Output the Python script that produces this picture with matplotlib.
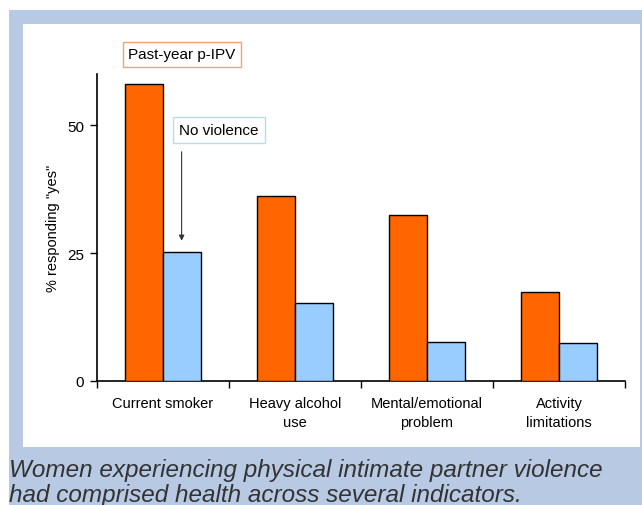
import matplotlib
matplotlib.use("Agg")
import matplotlib.pyplot as plt
from matplotlib.patches import Rectangle
import numpy as np

categories = ["Current smoker", "Heavy alcohol\nuse", "Mental/emotional\nproblem", "Activity\nlimitations"]
ipv = [58.1, 36.1, 32.4, 17.3]
no_violence = [25.3, 15.2, 7.6, 7.5]
yticks = [0, 25, 50]

plt.rcParams['font.family'] = ['Liberation Sans', 'DejaVu Sans']

W, H = 642, 506
fig = plt.figure(figsize=(W/100, H/100), dpi=100)
fig.patch.set_facecolor('white')

def px_rect(x0, y0, x1, y1, color):
    fig.patches.append(Rectangle((x0/W, 1 - y1/H), (x1-x0)/W, (y1-y0)/H,
                                 transform=fig.transFigure, facecolor=color,
                                 edgecolor='none', zorder=-10))

px_rect(9, 11, 642, 506, '#b8c9e3')
px_rect(23, 25, 640, 448, 'white')

ax = fig.add_axes([96.7/W, 1 - 382/H, (625-96.7)/W, (382-75)/H])
ax.set_facecolor('none')
ax.set_zorder(5)

x = np.arange(len(categories)) + 0.5
bw = 0.286
ax.bar(x - bw/2, ipv, bw, color='#ff6600', edgecolor='black', linewidth=1.0, zorder=3)
ax.bar(x + bw/2, no_violence, bw, color='#99ccff', edgecolor='black', linewidth=1.0, zorder=3)

ax.set_xlim(0, len(categories))
ax.set_ylim(0, 60)
ax.set_yticks(yticks)
ax.tick_params(axis='y', direction='out', length=5, width=1, labelsize=11, pad=4)
ax.set_xticks(x)
ax.set_xticklabels(categories, fontsize=10.5, linespacing=1.45)
ax.tick_params(axis='x', which='major', length=0, pad=11)
ax.set_xticks(np.arange(len(categories) + 1), minor=True)
ax.tick_params(axis='x', which='minor', direction='out', length=5, width=1)
for s in ['top', 'right']:
    ax.spines[s].set_visible(False)
for s in ['left', 'bottom']:
    ax.spines[s].set_linewidth(1.2)
ax.set_ylabel('% responding "yes"', fontsize=10.5, labelpad=5)

# legend-like boxes
t1 = fig.text(181.7/W, 1 - 55.3/H, 'Past-year p-IPV', ha='center', va='center', fontsize=11,
         bbox=dict(boxstyle='square,pad=0.35', facecolor='white', edgecolor='#f0a468', linewidth=1))
t2 = fig.text(219/W, 1 - 131/H, 'No violence', ha='center', va='center', fontsize=11,
         bbox=dict(boxstyle='square,pad=0.4', facecolor='white', edgecolor='#b8dcec', linewidth=1))
t1.set_zorder(6); t2.set_zorder(6)
ax.annotate('', xy=(x[0] + bw/2, no_violence[0] + 2.1), xycoords='data',
            xytext=(x[0] + bw/2, 44.8), textcoords='data',
            arrowprops=dict(arrowstyle='-|>', color='#333333', lw=0.8, mutation_scale=8,
                            shrinkA=0, shrinkB=0))

fig.text(9/W, 1 - 502/H, 'Women experiencing physical intimate partner violence\nhad comprised health across several indicators.',
         ha='left', va='baseline', fontsize=17.5, style='italic', color='#333333', linespacing=1.12)

fig.savefig('out.png', dpi=100)
